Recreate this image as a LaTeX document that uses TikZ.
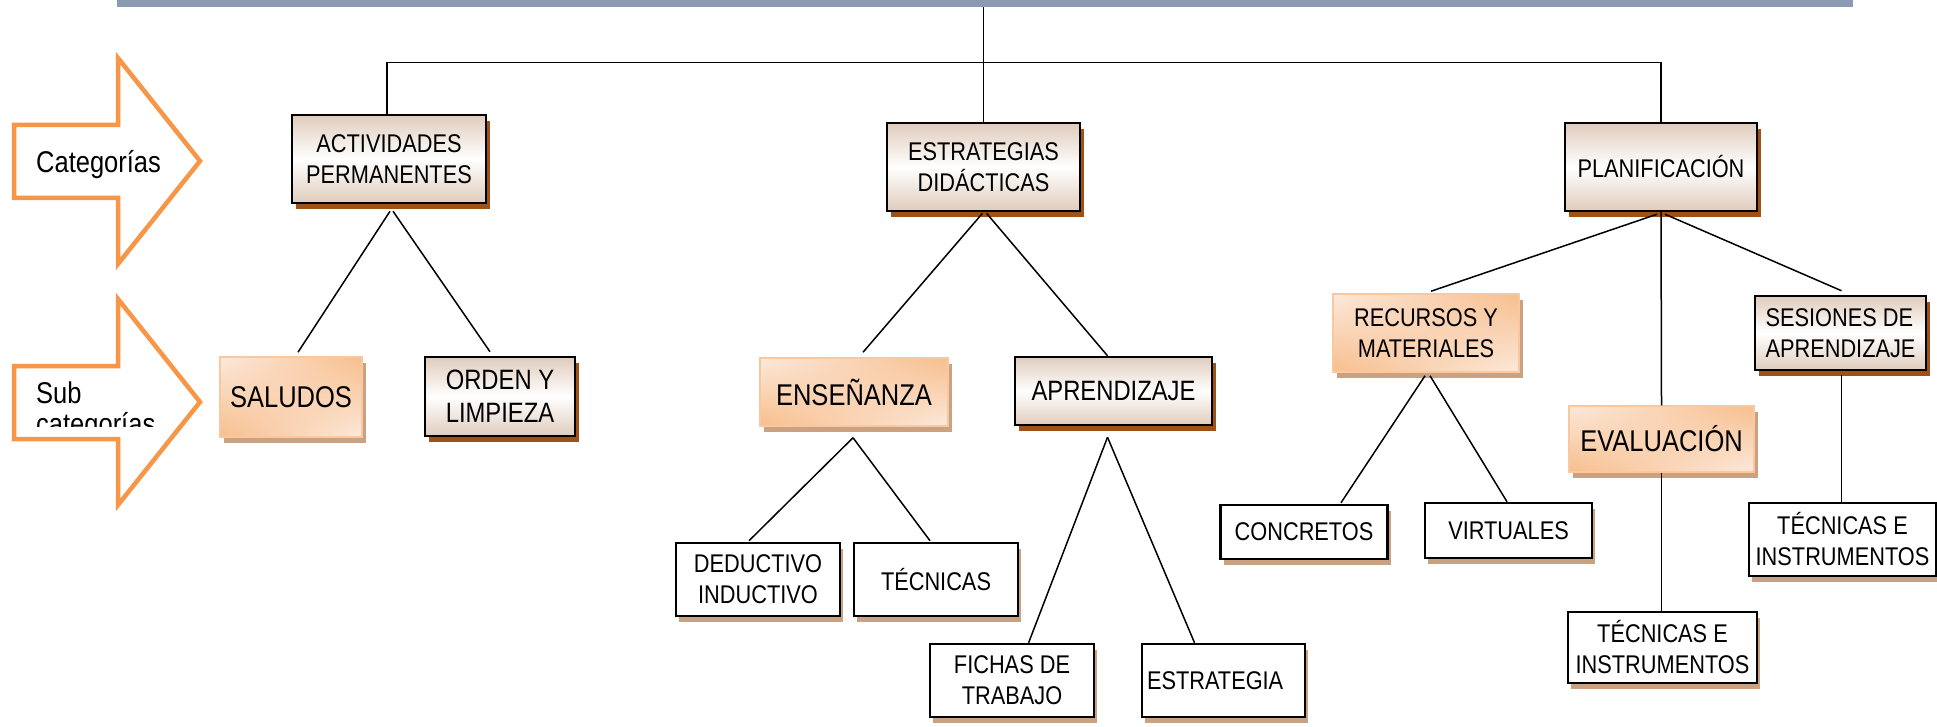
\documentclass[tikz,border=0pt]{standalone}
\usepackage{fontspec}
\setmainfont{Liberation Sans}[FakeStretch=0.85]
\usetikzlibrary{shadows,calc,shadings}
\definecolor{orng}{RGB}{247,150,70}
\definecolor{beige}{RGB}{224,204,188}
\definecolor{peach}{RGB}{252,233,220}
\definecolor{apricot}{RGB}{247,190,140}
\definecolor{peachline}{RGB}{250,200,160}
\definecolor{shbrown}{RGB}{160,82,22}
\definecolor{shtan}{RGB}{202,162,130}
\definecolor{barblue}{RGB}{138,154,178}
\definecolor{bardark}{RGB}{40,45,55}
\tikzset{
 box/.style={rectangle, inner sep=0pt, align=center, text=black},
 sz/.style 2 args={minimum width=#1pt, minimum height=#2pt},
 catbox/.style={box, draw=black, line width=2.5pt, top color=beige, bottom color=beige, middle color=white,
   drop shadow={shadow xshift=4pt, shadow yshift=-6pt, fill=shbrown, opacity=1}},
 subbox/.style={box, draw=peachline, line width=1.5pt, upper left=peach, upper right=apricot, lower left=apricot, lower right=peach,
   drop shadow={shadow xshift=4pt, shadow yshift=-6pt, fill=shtan, opacity=1}},
 leafbox/.style={box, draw=black, line width=2.5pt, fill=white,
   drop shadow={shadow xshift=3pt, shadow yshift=-6pt, fill=shtan, opacity=1}},
 conn/.style={line width=1.5pt, black},
 bigarrow/.style={draw=orng, line width=4.5pt, fill=white, line join=miter},
 fa/.style={font=\fontsize{25.6}{31}\selectfont},
 fb/.style={font=\fontsize{30}{34}\selectfont},
 fc/.style={font=\fontsize{28}{33}\selectfont},
}
\begin{document}
\begin{tikzpicture}[x=1pt,y=-1pt]
\useasboundingbox (0,0) rectangle (1937,727);
% top bar
\node[fill=barblue, minimum width=1736pt, minimum height=7pt, inner sep=0pt] (bar) at (985,3.5) {};
\draw[bardark, line width=1pt] (bar.north west) -- (bar.north east);
% big arrows
\draw[bigarrow] (14,125) -- (118,125) -- (118,58) -- (200,161) -- (118,264) -- (118,198) -- (14,198) -- cycle;
\draw[bigarrow] (14,366) -- (118,366) -- (118,299) -- (200,402) -- (118,505) -- (118,439) -- (14,439) -- cycle;
\node[anchor=base west, inner sep=0pt, fb] (cattitle) at (36,173) {Categorías};
\begin{scope}
\clip (20,370) rectangle (200,426);
\node[anchor=base west, inner sep=0pt, fb] (subtitle) at (36,403) {Sub};
\node[anchor=base west, inner sep=0pt, fb] (subtitleb) at (36,434) {categorías};
\end{scope}
% categories
\node[catbox, fa, sz={194}{88}] (act) at (389,159) {ACTIVIDADES\\PERMANENTES};
\node[catbox, fa, sz={193}{88}] (est) at (983.5,167) {ESTRATEGIAS\\DIDÁCTICAS};
\node[catbox, fa, sz={192}{88}] (plan) at (1661,167) {PLANIFICACIÓN};
% subcategories
\node[subbox, fb, sz={142}{80}] (sal) at (291,397) {SALUDOS};
\node[catbox, fc, sz={150}{79}] (ord) at (500,396.5) {ORDEN Y\\LIMPIEZA};
\node[subbox, fb, sz={188}{68}] (ens) at (854,392) {ENSEÑANZA};
\node[catbox, fc, sz={197}{68}] (apr) at (1113.5,391) {APRENDIZAJE};
\node[subbox, fa, sz={186}{78}] (rec) at (1426,333) {RECURSOS Y\\MATERIALES};
\node[catbox, fa, sz={171}{74}, align=left] (ses) at (1840.5,333) {SESIONES DE\\APRENDIZAJE};
\node[subbox, fb, sz={185}{66}] (eva) at (1661.5,439) {EVALUACIÓN};
% leaves
\node[leafbox, fa, sz={164}{73}] (ded) at (758,579.5) {DEDUCTIVO\\INDUCTIVO};
\node[leafbox, fa, sz={164}{73}] (tec) at (936,579.5) {TÉCNICAS};
\node[leafbox, fa, sz={164}{73}] (fic) at (1012,680.5) {FICHAS DE\\TRABAJO};
\node[leafbox, fa, sz={163}{73}, text width=153pt, align=left] (estr) at (1223.5,680.5) {ESTRATEGIA};
\node[leafbox, fa, sz={167}{54}] (con) at (1304,532) {CONCRETOS};
\node[leafbox, fa, sz={167}{55}] (vir) at (1508.5,530.5) {VIRTUALES};
\node[leafbox, fa, sz={189}{71}] (tie) at (1662.5,647.5) {TÉCNICAS E\\INSTRUMENTOS};
\node[leafbox, fa, sz={187}{73}] (tis) at (1842.5,539.5) {TÉCNICAS E\\INSTRUMENTOS};
% connectors
\draw[conn] (bar.south -| est.north) -- (est.north);
\draw[conn] ($(act.north)+(-2,0)$) |- ($(plan.north)+(0,-59)$) -- (plan.north);
\draw[conn] (plan.south) -- (eva.north);
\draw[conn] ($(act.south)+(1,7)$) -- ($(sal.north)+(7,-4)$);
\draw[conn] ($(act.south)+(4,7)$) -- ($(ord.north)+(-10,-4)$);
\draw[conn] ($(est.south)+(-1,1)$) -- ($(ens.north)+(9,-5)$);
\draw[conn] ($(est.south)+(3,1)$) -- ($(apr.north)+(-6,0)$);
\draw[conn] ($(plan.south)+(-4,2)$) -- ($(rec.north)+(5,-2)$);
\draw[conn] ($(plan.south)+(4,2)$) -- ($(ses.north)+(1,-4)$);
\draw[conn] ($(ens.south)+(-1,11)$) -- ($(ded.north)+(-9,-1)$);
\draw[conn] ($(ens.south)+(-1,11)$) -- ($(tec.north)+(-6,-1)$);
\draw[conn] ($(apr.south)+(-6,11)$) -- ($(fic.north)+(16.6,0)$);
\draw[conn] ($(apr.south)+(-6,11)$) -- ($(estr.north)+(-29,0)$);
\draw[conn] ($(rec.south)+(-1,3)$) -- ($(con.north)+(37,-1)$);
\draw[conn] ($(rec.south)+(4,3)$) -- ($(vir.north)+(-1.5,0)$);
\draw[conn] (eva.south) -- (eva.south |- tie.north);
\draw[conn] ($(ses.south)+(1,4)$) -- ($(tis.north)+(-1,0)$);
\end{tikzpicture}
\end{document}
